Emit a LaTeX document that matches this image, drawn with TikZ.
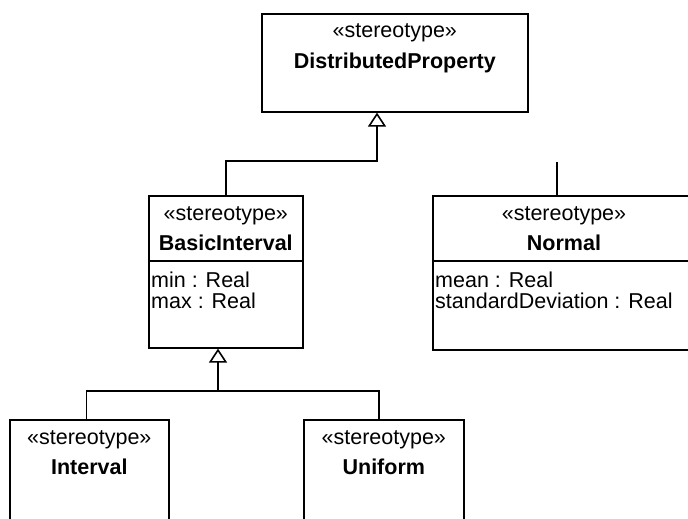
\documentclass[tikz,border=0pt]{standalone}
\usepackage{fontspec}
\setmainfont{Liberation Sans}
\usetikzlibrary{arrows.meta, positioning}

\begin{document}
\begin{tikzpicture}[x=1pt, y=1pt,
  cls/.style={draw, line width=1.6pt, anchor=north west, inner sep=0pt},
  stereo/.style={anchor=base, inner sep=0pt, font=\fontsize{21.5}{21}\selectfont},
  cname/.style={anchor=base, inner sep=0pt, font=\fontsize{21.5}{21}\selectfont\bfseries},
  attrs/.style={anchor=base west, align=left, inner sep=0pt,
                font=\fontsize{21.5}{21}\selectfont},
  gen/.style={-{Triangle[open, width=18pt, length=14pt]}, line width=1.6pt},
  link/.style={line width=1.6pt}
]
  \clip (0,0) rectangle (688,-519);

  % classes
  \node[cls, minimum width=266pt, minimum height=98pt] (dp) at (261,-13) {};
  \node[cls, minimum width=154pt, minimum height=152pt] (bi) at (148,-195) {};
  \node[cls, minimum width=268pt, minimum height=154pt] (nm) at (432,-195) {};
  \node[cls, minimum width=159pt, minimum height=140pt] (iv) at (9,-419) {};
  \node[cls, minimum width=160pt, minimum height=140pt] (un) at (303,-419) {};

  % names
  \node[stereo] (dps) at ([yshift=-25pt]dp.north) {«stereotype»};
  \node[cname]  (dpn) at ([yshift=-55pt]dp.north) {DistributedProperty};
  \node[stereo] (bis) at ([yshift=-25pt]bi.north) {«stereotype»};
  \node[cname]  (bin) at ([yshift=-55pt]bi.north) {BasicInterval};
  \node[stereo] (nms) at (564,-220) {«stereotype»};
  \node[cname]  (nmn) at (564,-250) {Normal};
  \node[stereo] (ivs) at ([yshift=-25pt]iv.north) {«stereotype»};
  \node[cname]  (ivn) at ([yshift=-55pt]iv.north) {Interval};
  \node[stereo] (uns) at ([yshift=-25pt]un.north) {«stereotype»};
  \node[cname]  (unn) at ([yshift=-55pt]un.north) {Uniform};

  % attribute compartments
  \draw[link] (bi.west |- 0,-261) -- (bi.east |- 0,-261);
  \draw[link] (nm.west |- 0,-261) -- (nm.east |- 0,-261);
  \node[attrs] (bia) at (151,-308) {min : Real\\max : Real};
  \node[attrs] (nma) at (435,-308) {mean : Real\\standardDeviation : Real};

  % generalizations
  \coordinate (j1) at (377,-161);
  \draw[gen] (bi.north) |- (j1) -- (j1 |- dp.south);
  \coordinate (j2) at (218,-391);
  \draw[gen] (j2) -- (j2 |- bi.south);
  \draw[link] (j2) -| ([xshift=-3pt]iv.north);
  \draw[link] (j2) -| ([xshift=-5pt]un.north);
  \coordinate (nmtop) at (557,-162);
  \draw[link] (nmtop |- nm.north) -- (nmtop);
\end{tikzpicture}
\end{document}
